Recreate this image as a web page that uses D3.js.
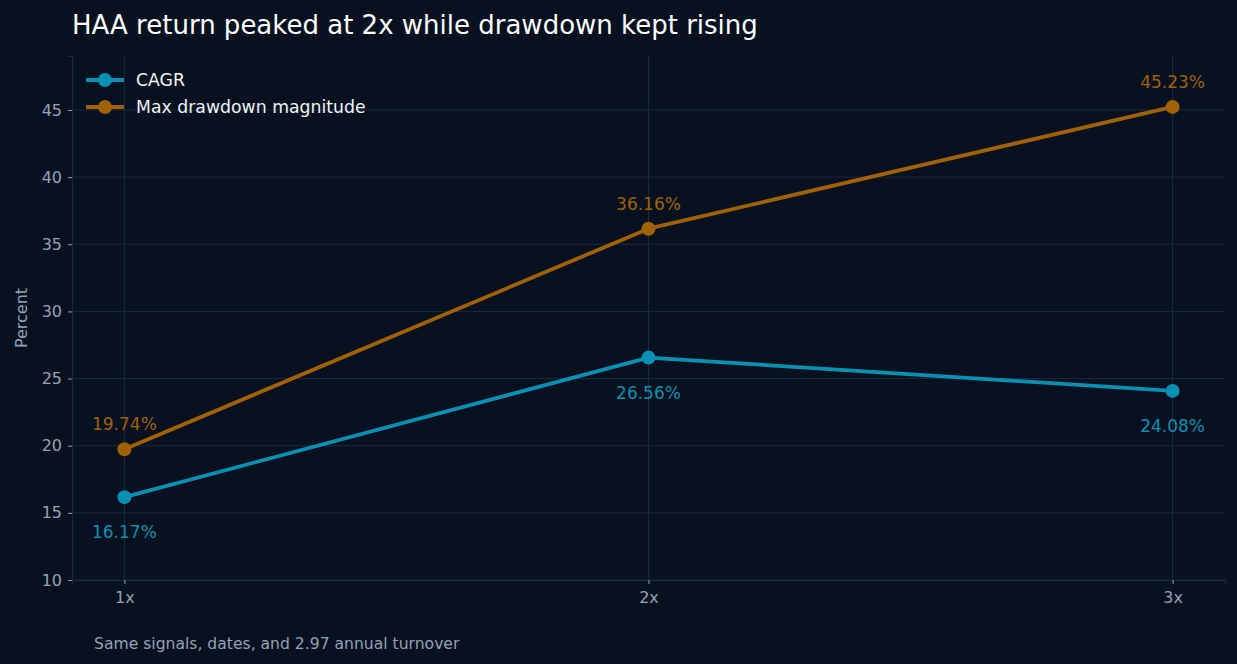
<!DOCTYPE html>
<html>
<head>
<meta charset="utf-8">
<script src="https://cdn.jsdelivr.net/npm/d3@7"></script>
<style>
  html, body { margin: 0; padding: 0; background: #08111f; }
  svg { display: block; font-family: "DejaVu Sans", sans-serif; }
</style>
</head>
<body>
<div id="chart"></div>
<script>
// Chart data
var leverage = ['1x', '2x', '3x'];
var leverageValues = [1, 2, 3];
var cagr = [16.17, 26.56, 24.08];
var maxDrawdown = [19.74, 36.16, 45.23];
var yTicks = [10, 15, 20, 25, 30, 35, 40, 45];

var seriesList = [
    { name: 'CAGR', values: cagr, color: '#0891b2', labelDy: 41 },
    { name: 'Max drawdown magnitude', values: maxDrawdown, color: '#a16207', labelDy: -19 }
];

// Sizing
var width = 1237, height = 664;
var margin = { top: 56, right: 12, bottom: 84, left: 72 };
var bg = '#08111f', gridColor = '#1d2940', tickColor = '#94a3b8';
var tickFont = '16px';

var svg = d3.select('#chart').append('svg')
    .attr('width', width)
    .attr('height', height);

svg.append('rect').attr('width', width).attr('height', height).attr('fill', bg);

var x = d3.scaleLinear().domain([0.9, 3.1]).range([margin.left, width - margin.right]);
var y = d3.scaleLinear().domain([10, 49.02]).range([height - margin.bottom, margin.top]);

// Grid
var grid = svg.append('g');
grid.selectAll('.hgrid').data(yTicks).enter().append('line')
    .attr('x1', margin.left).attr('x2', width - margin.right)
    .attr('y1', function(d) { return y(d); }).attr('y2', function(d) { return y(d); })
    .attr('stroke', gridColor).attr('stroke-width', 1);
grid.selectAll('.vgrid').data(leverageValues).enter().append('line')
    .attr('x1', function(d) { return x(d); }).attr('x2', function(d) { return x(d); })
    .attr('y1', margin.top).attr('y2', height - margin.bottom)
    .attr('stroke', gridColor).attr('stroke-width', 1);

// Axes
var yAxis = d3.axisLeft(y).tickValues(yTicks).tickSize(4).tickPadding(6);
var xAxis = d3.axisBottom(x).tickValues(leverageValues)
    .tickFormat(function(d, i) { return leverage[i]; }).tickSize(4).tickPadding(8);

var gy = svg.append('g').attr('transform', 'translate(' + margin.left + ',0)').call(yAxis);
var gx = svg.append('g').attr('transform', 'translate(0,' + (height - margin.bottom) + ')').call(xAxis);
[gx, gy].forEach(function(g) {
    g.attr('font-size', tickFont).attr('font-family', '"DejaVu Sans", sans-serif');
    g.select('.domain').attr('stroke', gridColor).attr('stroke-width', 1.2);
    g.selectAll('.tick line').attr('stroke', tickColor);
    g.selectAll('.tick text').attr('fill', tickColor).style('font-size', tickFont);
});

svg.append('text')
    .attr('transform', 'translate(27,' + ((margin.top + height - margin.bottom) / 2) + ') rotate(-90)')
    .attr('text-anchor', 'middle')
    .attr('fill', tickColor)
    .style('font-size', tickFont)
    .text('Percent');

// Lines, points and value labels
var line = d3.line()
    .x(function(d, i) { return x(leverageValues[i]); })
    .y(function(d) { return y(d); });

seriesList.forEach(function(s) {
    svg.append('path')
        .attr('d', line(s.values))
        .attr('fill', 'none')
        .attr('stroke', s.color)
        .attr('stroke-width', 3.8)
        .attr('stroke-linejoin', 'round');

    svg.selectAll(null).data(s.values).enter().append('circle')
        .attr('cx', function(d, i) { return x(leverageValues[i]); })
        .attr('cy', function(d) { return y(d); })
        .attr('r', 7)
        .attr('fill', s.color);

    svg.selectAll(null).data(s.values).enter().append('text')
        .attr('x', function(d, i) { return x(leverageValues[i]); })
        .attr('y', function(d) { return y(d) + s.labelDy; })
        .attr('text-anchor', 'middle')
        .attr('fill', s.color)
        .style('font-size', '17px')
        .text(function(d) { return d.toFixed(2) + '%'; });
});

// Legend
var legend = svg.append('g').attr('transform', 'translate(86,80)');
seriesList.forEach(function(s, i) {
    var g = legend.append('g').attr('transform', 'translate(0,' + (i * 27) + ')');
    g.append('line').attr('x1', 0).attr('x2', 38).attr('y1', 0).attr('y2', 0)
        .attr('stroke', s.color).attr('stroke-width', 3.8);
    g.append('circle').attr('cx', 19).attr('cy', 0).attr('r', 7).attr('fill', s.color);
    g.append('text').attr('x', 50).attr('y', 0).attr('dy', '0.35em')
        .attr('fill', '#f1f5f9').style('font-size', '17.3px').text(s.name);
});

// Title and footnote
svg.append('text').attr('x', 72).attr('y', 34)
    .attr('fill', '#ffffff').style('font-size', '26px')
    .text('HAA return peaked at 2x while drawdown kept rising');

svg.append('text').attr('x', 94).attr('y', 649)
    .attr('fill', tickColor).style('font-size', '15.6px')
    .text('Same signals, dates, and 2.97 annual turnover');
</script>
</body>
</html>
